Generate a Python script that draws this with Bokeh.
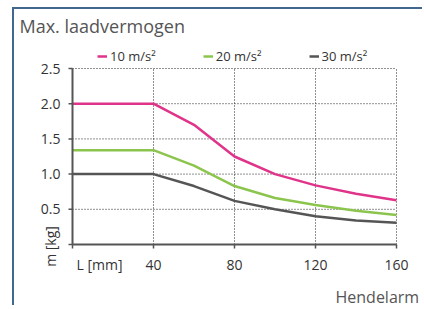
import math
from bokeh.plotting import figure
from bokeh.models import Legend, LegendItem
from bokeh.core.properties import value
from bokeh.embed import file_html
from bokeh.resources import INLINE

# data
L_mm = [0, 40, 60, 80, 100, 120, 140, 160]
m_10 = [2.0, 2.0, 1.70, 1.25, 1.00, 0.84, 0.72, 0.63]
m_20 = [1.34, 1.34, 1.12, 0.83, 0.66, 0.56, 0.48, 0.42]
m_30 = [1.0, 1.0, 0.83, 0.62, 0.50, 0.40, 0.34, 0.31]
series_names = ["10 m/s²", "20 m/s²", "30 m/s²"]
x_ticks = [0, 40, 80, 120, 160]
y_ticks = [0, 0.5, 1.0, 1.5, 2.0, 2.5]
x_tick_labels = ["40", "80", "120", "160"]
y_tick_labels = ["0.5", "1.0", "1.5", "2.0", "2.5"]

FONT = "Open Sans"
colors = ["#e0338a", "#8cc54e", "#555555"]
AX = "#555555"
TXT = "#333333"

W, H = 410, 298
PX_X = 2.025   # px per mm
PX_Y = 70.4    # px per kg
X0, Y0 = 58, 235  # canvas position of the origin
x_range = (-X0 / PX_X, (W - X0) / PX_X)
y_range = ((Y0 - H) / PX_Y, Y0 / PX_Y)

p = figure(width=W, height=H, x_range=x_range, y_range=y_range,
           x_axis_type=None, y_axis_type=None, title=None,
           output_backend="svg", toolbar_location=None, min_border=0)
p.styles = {"margin-left": "12px", "margin-top": "7px", "border-left": "2px solid #41698f",
            "border-top": "2px solid #41698f"}
p.outline_line_color = None

xmin, xmax = x_ticks[0], x_ticks[-1]
ymin, ymax = y_ticks[0], y_ticks[-1]

# dotted grid
p.segment(x0=[xmin] * (len(y_ticks) - 1), x1=[xmax] * (len(y_ticks) - 1), y0=y_ticks[1:], y1=y_ticks[1:],
          line_color="#222222", line_width=1, line_dash="1 2")
p.segment(x0=x_ticks[1:], x1=x_ticks[1:], y0=[ymin] * (len(x_ticks) - 1), y1=[ymax] * (len(x_ticks) - 1),
          line_color="#222222", line_width=1, line_dash="1 2")

# data lines
renderers = []
for ys, c in zip([m_10, m_20, m_30], colors):
    renderers.append(p.line(L_mm, ys, line_color=c, line_width=2.5))

# axes lines and ticks
p.segment(x0=[xmin, xmin], y0=[ymin, ymin], x1=[xmin, xmax], y1=[ymax, ymin],
          line_color=AX, line_width=2)
p.ray(x=[xmin] * len(y_ticks), y=y_ticks, length=4, length_units="screen", angle=math.pi,
      line_color=AX, line_width=1.5)
p.ray(x=x_ticks, y=[ymin] * len(x_ticks), length=4, length_units="screen", angle=-math.pi / 2,
      line_color=AX, line_width=1.5)

# tick labels
XLAB_Y = (Y0 - 255) / PX_Y
p.text(x=x_ticks[1:], y=[XLAB_Y] * len(x_tick_labels), text=x_tick_labels,
       text_align="center", text_baseline="middle", text_font=value(FONT),
       text_font_size="14px", text_color=TXT)
p.text(x=[xmin] * len(y_tick_labels), y=y_ticks[1:], text=y_tick_labels, x_offset=-12,
       text_align="right", text_baseline="middle", text_font=value(FONT),
       text_font_size="14px", text_color=TXT)

# axis names and title
p.text(x=[(85 - X0) / PX_X], y=[XLAB_Y], text=["L [mm]"], text_align="center",
       text_baseline="middle", text_font=value(FONT), text_font_size="14px", text_color=TXT)
p.text(x=[(36 - X0) / PX_X], y=[(Y0 - 237) / PX_Y], text=["m [kg]"], angle=math.pi / 2,
       text_align="center", text_baseline="middle", text_font=value(FONT),
       text_font_size="14px", text_color=TXT)
p.text(x=[(321 - X0) / PX_X], y=[(Y0 - 287) / PX_Y], text=["Hendelarm"], text_align="left",
       text_baseline="middle", text_font=value(FONT), text_font_size="16px", text_color="#555555")
p.text(x=[(5 - X0) / PX_X], y=[(Y0 - 16.5) / PX_Y], text=["Max. laadvermogen"], text_align="left",
       text_baseline="middle", text_font=value(FONT), text_font_size="18px", text_color="#555555")

legend = Legend(items=[LegendItem(label=n, renderers=[r]) for n, r in zip(series_names, renderers)],
                orientation="horizontal", location=(83, 242),
                glyph_width=10, glyph_height=14, label_standoff=3, spacing=47,
                padding=0, margin=0, background_fill_alpha=0, border_line_color=None,
                label_text_font=FONT, label_text_font_size="13px", label_text_color=TXT,
                label_height=16)
p.add_layout(legend)

open("out.html", "w").write(file_html(p, INLINE))
